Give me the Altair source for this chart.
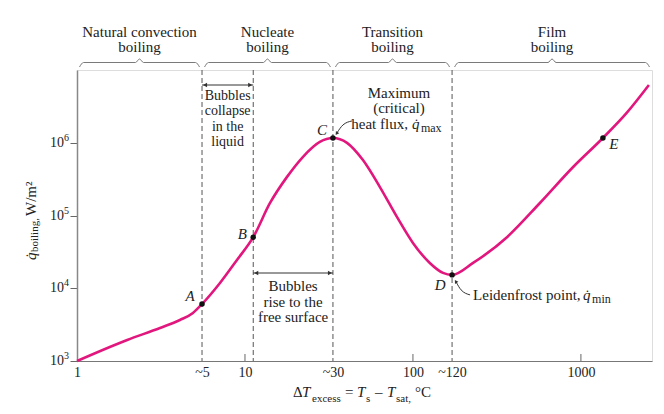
import math
import altair as alt
import pandas as pd

# ---------------- data ----------------
dT = [1.0, 1.99, 3.12, 4.10, 4.9, 5.55, 7.1, 8.96, 11.2, 14.1, 17.8, 22.1, 27.9,
      33.4, 40.5, 50.4, 63.6, 80.3, 100, 126, 151, 171, 228, 363, 570, 896,
      1352, 1878, 2540]
q = [1.0e3, 1.95e3, 2.85e3, 3.68e3, 4.6e3, 6.1e3, 1.19e4, 2.47e4, 5.1e4, 1.51e5,
     3.46e5, 6.5e5, 1.05e6, 1.19e6, 1.02e6, 5.9e5, 2.5e5, 9.7e4, 4.25e4, 2.25e4,
     1.64e4, 1.54e4, 2.25e4, 5.1e4, 1.51e5, 4.7e5, 1.19e6, 2.66e6, 6.4e6]

pt_names = ["A", "B", "C", "D", "E"]
pt_dT = [5.55, 11.2, 33.4, 171, 1352]
pt_q = [6.1e3, 5.1e4, 1.19e6, 1.54e4, 1.19e6]

x_ticks = [1, 5.55, 10, 33.4, 100, 171, 1000]
x_tick_labels = ["1", "~5", "10", "~30", "100", "~120", "1000"]
x_inner_ticks = [10, 100, 1000]
y_ticks = [1e3, 1e4, 1e5, 1e6]
y_tick_base = ["10", "10", "10", "10"]
y_tick_exp = ["3", "4", "5", "6"]

region_line1 = ["Natural convection", "Nucleate", "Transition", "Film"]
region_line2 = ["boiling", "boiling", "boiling", "boiling"]
region_bounds = [1, 5.55, 33.4, 171, 2650]
dashed_at = [5.55, 11.2, 33.4, 171]

# ---------------- layout / style ----------------
W, H = 575, 291
XDOM = [1, 2650]
YDOM = [1e3, 1.03e7]
PX_X = W / math.log10(XDOM[1] / XDOM[0])
PX_Y = H / math.log10(YDOM[1] / YDOM[0])
FONT = "Liberation Serif"
FS = 15
FSUB = 12
PINK = "#E2177E"
GRAY = "#555555"
TXT = "#222222"


def shift_x(x, dx):
    return x * 10 ** (dx / PX_X)


def above_top(k):
    return YDOM[1] * 10 ** (k / PX_Y)


def label_expr(vals, labels):
    expr = "''"
    for v, l in reversed(list(zip(vals, labels))):
        expr = f"abs(datum.value - {v}) < {v * 0.01} ? '{l}' : " + expr
    return expr


xscale = alt.Scale(type="log", domain=XDOM, nice=False)
yscale = alt.Scale(type="log", domain=YDOM, nice=False)
xaxis = alt.Axis(values=x_ticks, labelExpr=label_expr(x_ticks, x_tick_labels),
                 ticks=False, grid=False, title=None, labelFont=FONT,
                 labelFontSize=14, labelColor=TXT, labelPadding=4,
                 domainColor="#777", labelFlush=False, labelOverlap=False)
yaxis = alt.Axis(values=y_ticks, labels=False,
                 tickSize=7, tickColor="#666", grid=False, title=None,
                 domainColor="#888", domainWidth=1.5)


def X(field="x", **kw):
    return alt.X(f"{field}:Q", scale=xscale, axis=xaxis, **kw)


def Y(field="y", **kw):
    return alt.Y(f"{field}:Q", scale=yscale, axis=yaxis, **kw)


curve_df = pd.DataFrame({"x": dT, "y": q})
pts_df = pd.DataFrame({"x": pt_dT, "y": pt_q, "name": pt_names})

layers = []

# dashed vertical lines
layers.append(alt.Chart(pd.DataFrame({"x": dashed_at})).mark_rule(
    color=GRAY, strokeDash=[5, 3], strokeWidth=1).encode(x=X()))

# inner ticks on x axis
ticks_df = pd.DataFrame({"x": x_inner_ticks, "y": [YDOM[0]] * 3,
                         "y2": [YDOM[0] * 10 ** (7 / PX_Y)] * 3})
layers.append(alt.Chart(ticks_df).mark_rule(color="#666", strokeWidth=1).encode(
    x=X(), y=Y(), y2="y2:Q"))

# y tick labels with real superscripts
ylab_df = pd.DataFrame({"y": y_ticks, "b": y_tick_base, "e": y_tick_exp})
layers.append(alt.Chart(ylab_df).mark_text(
    font=FONT, fontSize=14, color=TXT, align="right", baseline="middle").encode(
    x=alt.value(-13), y=Y(), text="b:N"))
layers.append(alt.Chart(ylab_df).mark_text(
    font=FONT, fontSize=10, color=TXT, align="left", baseline="middle", dy=-5).encode(
    x=alt.value(-13), y=Y(), text="e:N"))

# boiling curve
layers.append(alt.Chart(curve_df).mark_line(
    color=PINK, strokeWidth=2.6, interpolate="monotone").encode(x=X(), y=Y()))

# points
layers.append(alt.Chart(pts_df).mark_circle(size=30, color="#111", opacity=1).encode(
    x=X(), y=Y()))

# point labels
label_offsets = {"A": (-12, -8), "B": (-11, -3), "C": (-11, -8), "D": (-12, 10), "E": (11, 6)}
for n, (ddx, ddy) in label_offsets.items():
    layers.append(alt.Chart(pts_df[pts_df.name == n]).mark_text(
        font=FONT, fontSize=FS, fontStyle="italic", color=TXT, dx=ddx, dy=ddy).encode(
        x=X(), y=Y(), text="name:N"))

# region braces + titles
brace_rows = []
for i in range(4):
    g = 2.5 / PX_X
    u0 = math.log10(region_bounds[i]) + g
    u1 = math.log10(region_bounds[i + 1]) - g
    um = (u0 + u1) / 2
    e = 4 / PX_X
    us = [u0, u0 + e, um - e, um, um + e, u1 - e, u1]
    ks = [3, 7.5, 7.5, 11, 7.5, 7.5, 3]
    for j, (u, k) in enumerate(zip(us, ks)):
        brace_rows.append({"x": 10 ** u, "y": above_top(k), "seg": i, "o": j})
brace_df = pd.DataFrame(brace_rows)
layers.append(alt.Chart(brace_df).mark_line(
    color="#7a7a7a", strokeWidth=1, interpolate="monotone", clip=False).encode(
    x=X(), y=Y(), detail="seg:N", order="o:Q"))

reg_df = pd.DataFrame({
    "x": [math.sqrt(region_bounds[i] * region_bounds[i + 1]) for i in range(4)],
    "l1": region_line1, "l2": region_line2})
layers.append(alt.Chart(reg_df).mark_text(font=FONT, fontSize=FS, color=TXT).encode(
    x=X(), y=alt.value(-38), text="l1:N"))
layers.append(alt.Chart(reg_df).mark_text(font=FONT, fontSize=FS, color=TXT).encode(
    x=X(), y=alt.value(-23), text="l2:N"))

# double arrows
arrows = [(5.55, 11.2, 15), (11.2, 33.4, 203)]
for a, b, py in arrows:
    adf = pd.DataFrame({"x": [a], "x2": [b]})
    layers.append(alt.Chart(adf).mark_rule(color="#333", strokeWidth=1).encode(
        x=X(), x2="x2:Q", y=alt.value(py)))
    hl = pd.DataFrame({"x": [shift_x(a, 3)]})
    hr = pd.DataFrame({"x": [shift_x(b, -3)]})
    layers.append(alt.Chart(hl).mark_point(shape="triangle-left", filled=True,
                                           size=22, color="#333", opacity=1).encode(
        x=X(), y=alt.value(py)))
    layers.append(alt.Chart(hr).mark_point(shape="triangle-right", filled=True,
                                           size=22, color="#333", opacity=1).encode(
        x=X(), y=alt.value(py)))

# annotation blocks between dashed lines (y = first line)
blocks = pd.DataFrame({
    "x": [math.sqrt(5.55 * 11.2), math.sqrt(11.2 * 33.4)],
    "t": ["Bubbles\ncollapse\nin the\nliquid", "Bubbles\nrise to the\nfree surface"]})
layers.append(alt.Chart(blocks.iloc[[0]]).mark_text(
    font=FONT, fontSize=14, color=TXT, lineBreak="\n", lineHeight=15.3,
    baseline="middle").encode(x=X(), y=alt.value(26), text="t:N"))
layers.append(alt.Chart(blocks.iloc[[1]]).mark_text(
    font=FONT, fontSize=FS, color=TXT, lineBreak="\n", lineHeight=15.5,
    baseline="middle").encode(x=X(), y=alt.value(216), text="t:N"))

# Maximum (critical) heat flux annotation anchored at C
cdf = pts_df[pts_df.name == "C"]
ddf = pts_df[pts_df.name == "D"]
layers.append(alt.Chart(cdf.assign(t="Maximum\n(critical)")).mark_text(
    font=FONT, fontSize=FS, color=TXT, lineBreak="\n", lineHeight=15.5,
    baseline="middle", dx=66, dy=-45).encode(x=X(), y=Y(), text="t:N"))
layers.append(alt.Chart(cdf.assign(t="heat flux,")).mark_text(
    font=FONT, fontSize=FS, color=TXT, align="right", baseline="middle",
    dx=75, dy=-14).encode(x=X(), y=Y(), text="t:N"))
layers.append(alt.Chart(cdf.assign(t="q\u0307")).mark_text(
    font=FONT, fontSize=FS, color=TXT, fontStyle="italic", align="left",
    baseline="middle", dx=79, dy=-14).encode(x=X(), y=Y(), text="t:N"))
layers.append(alt.Chart(cdf.assign(t="max")).mark_text(
    font=FONT, fontSize=FSUB, color=TXT, align="left", baseline="middle",
    dx=88, dy=-10).encode(x=X(), y=Y(), text="t:N"))

# Leidenfrost annotation anchored at D
layers.append(alt.Chart(ddf.assign(t="Leidenfrost point,")).mark_text(
    font=FONT, fontSize=FS, color=TXT, align="left", baseline="middle",
    dx=21, dy=20).encode(x=X(), y=Y(), text="t:N"))
layers.append(alt.Chart(ddf.assign(t="q\u0307")).mark_text(
    font=FONT, fontSize=FS, color=TXT, fontStyle="italic", align="left",
    baseline="middle", dx=131, dy=20).encode(x=X(), y=Y(), text="t:N"))
layers.append(alt.Chart(ddf.assign(t="min")).mark_text(
    font=FONT, fontSize=FSUB, color=TXT, align="left", baseline="middle",
    dx=140, dy=24).encode(x=X(), y=Y(), text="t:N"))


# leader arrows (pixel offsets from anchor point)
def leader(px, oy, offs, angle):
    rows = []
    for j, (ddx, ddy) in enumerate(offs):
        rows.append({"x": shift_x(px, ddx), "y": oy * 10 ** (-ddy / PX_Y), "o": j})
    ldf = pd.DataFrame(rows)
    ln = alt.Chart(ldf).mark_line(color="#333", strokeWidth=1,
                                  interpolate="monotone").encode(x=X(), y=Y(), order="o:Q")
    hd = alt.Chart(ldf.iloc[[-1]]).mark_point(shape="triangle", filled=True, size=16,
                                               angle=angle, color="#333", opacity=1).encode(
        x=X(), y=Y())
    return [ln, hd]


layers += leader(33.4, 1.19e6, [(19, -17), (10, -13), (4, -5)], 214)
layers += leader(171, 1.54e4, [(18, 20), (9, 15), (4, 7)], 328)

# axis titles (composite rich text)
ytitle = [("q\u0307", -46, 190, FS, "italic"), ("boiling,", -42, 182, 11, "normal"),
          ("W/m²", -46, 146, FS, "normal")]
for t, px, py, fs, st in ytitle:
    layers.append(alt.Chart(pd.DataFrame({"t": [t]})).mark_text(
        font=FONT, fontSize=fs, fontStyle=st, color=TXT, angle=270, align="left",
        baseline="middle").encode(x=alt.value(px), y=alt.value(py), text="t:N"))

XT_MAIN, XT_SUB, XT_FSUB = 322, 329, 11
xtitle = [("Δ", 216, XT_MAIN, FS, "normal"), ("T", 225, XT_MAIN, FS, "italic"),
          ("excess", 235, XT_SUB, XT_FSUB, "normal"), ("=", 268, XT_MAIN, FS, "normal"),
          ("T", 280, XT_MAIN, FS, "italic"), ("s", 289, XT_SUB, XT_FSUB, "normal"),
          ("–", 298, XT_MAIN, FS, "normal"), ("T", 310, XT_MAIN, FS, "italic"),
          ("sat,", 319, XT_SUB, XT_FSUB, "normal"), ("°C", 338, XT_MAIN, FS, "normal")]
for t, px, py, fs, st in xtitle:
    layers.append(alt.Chart(pd.DataFrame({"t": [t]})).mark_text(
        font=FONT, fontSize=fs, fontStyle=st, color=TXT, align="left",
        baseline="middle").encode(x=alt.value(px), y=alt.value(py), text="t:N"))

chart = alt.layer(*layers).properties(
    width=W, height=H,
    autosize=alt.AutoSizeParams(type="none"),
    padding={"left": 69, "top": 62, "right": 4, "bottom": 45},
).configure_view(stroke="#555", strokeWidth=1).configure(background="white")

chart.save("out.html", embed_options={"renderer": "svg", "actions": False})
